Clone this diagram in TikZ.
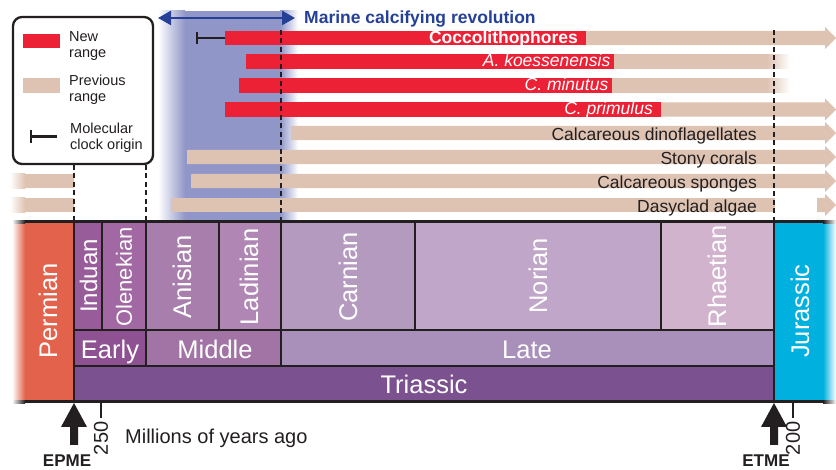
\documentclass[tikz,border=0pt]{standalone}
\usepackage{fontspec}
\setmainfont{Liberation Sans}
\usetikzlibrary{arrows.meta}
\definecolor{dk}{RGB}{35,31,32}
\definecolor{perm}{RGB}{227,98,75}
\definecolor{ind}{RGB}{153,92,155}
\definecolor{ole}{RGB}{162,104,163}
\definecolor{ani}{RGB}{168,127,172}
\definecolor{lad}{RGB}{176,135,180}
\definecolor{car}{RGB}{181,154,192}
\definecolor{nor}{RGB}{192,166,200}
\definecolor{rha}{RGB}{210,179,205}
\definecolor{ear}{RGB}{142,82,146}
\definecolor{mid}{RGB}{161,116,165}
\definecolor{lat}{RGB}{169,144,187}
\definecolor{tri}{RGB}{124,81,144}
\definecolor{jur}{RGB}{0,176,223}
\definecolor{redc}{RGB}{236,33,53}
\definecolor{tanc}{RGB}{222,195,178}
\definecolor{bandc}{RGB}{144,150,200}
\definecolor{bluec}{RGB}{38,64,152}
\newcommand\tanarrow[2]{\fill[tanc] (#1,#2-7.2) -- (825,#2-7.2) -- (825,#2-11) -- (836,#2) -- (825,#2+11) -- (825,#2+7.2) -- (#1,#2+7.2) -- cycle;}
\newcommand\redbar[3]{\fill[redc] (#1,#3-7.2) rectangle (#2,#3+7.2);}
\newcommand\tanbar[3]{\fill[tanc] (#1,#3-7.2) rectangle (#2,#3+7.2);}
\begin{document}
\begin{tikzpicture}[x=1pt,y=-1pt,
  cell/.style={draw=dk,line width=2.5pt},
  stlab/.style={text=white,inner sep=0pt,font=\fontsize{25.5}{30}\selectfont},
  barlab/.style={anchor=base east,inner sep=0pt,font=\fontsize{17.5}{20}\selectfont},
  guide/.style={draw=dk,line width=2.7pt,dash pattern=on 5pt off 3.5pt},
  legtxt/.style={anchor=north west,inner sep=0pt,align=left,text=dk,font=\fontsize{14.5}{16}\selectfont},
  ticklab/.style={rotate=90,anchor=east,inner sep=0pt,text=dk,font=\fontsize{20}{24}\selectfont},
  evlab/.style={anchor=base,inner sep=0pt,text=dk,font=\bfseries\fontsize{17}{20}\selectfont},
  clock/.style={draw=dk,line width=2.5pt},
]
\useasboundingbox[fill=white] (0,0) rectangle (836,470);

% blue band
\shade[left color=white,right color=bandc] (158,11) rectangle (185,222);
\fill[bandc] (185,11) rectangle (280,222);
\shade[left color=bandc,right color=white] (280,11) rectangle (298,222);

% marine calcifying revolution
\coordinate (mcrL) at (158,18);
\coordinate (mcrR) at (295,18);
\draw[bluec,line width=2.5pt,{Triangle[length=13pt,width=14pt]}-{Triangle[length=13pt,width=14pt]}] (mcrL) -- (mcrR);
\node[anchor=base west,inner sep=0pt,text=bluec,font=\bfseries\fontsize{17.5}{20}\selectfont] (mcr) at (304,23.5) {Marine calcifying revolution};

% row 1 Coccolithophores
\tanarrow{580}{38}
\redbar{225}{586}{38}
\draw[clock] (197,32) -- (197,44);
\draw[clock] (197,38) -- (225,38);
\node[barlab,text=white,font=\bfseries\fontsize{17.5}{20}\selectfont] (coc) at (578,43.5) {Coccolithophores};
% row 2
\tanbar{610}{767}{61.5}
\shade[left color=tanc,right color=white] (767,54.3) rectangle (790,68.7);
\redbar{246}{614}{61.5}
\node[barlab,text=white,font=\itshape\fontsize{17.5}{20}\selectfont] (ak) at (610.5,67) {A. koessenensis};
% row 3
\tanbar{608}{767}{85.5}
\shade[left color=tanc,right color=white] (767,78.3) rectangle (790,92.7);
\redbar{239}{611.5}{85.5}
\node[barlab,text=white,font=\itshape\fontsize{17.5}{20}\selectfont] (cm) at (608.5,91) {C. minutus};
% row 4
\tanarrow{655}{109.5}
\redbar{225}{661}{109.5}
\node[barlab,text=white,font=\itshape\fontsize{17.5}{20}\selectfont] (cp) at (653,115) {C. primulus};
% row 5
\tanarrow{291}{133}
\node[barlab,text=dk] (cd) at (757,140.5) {Calcareous dinoflagellates};
% row 6
\tanarrow{187}{157}
\node[barlab,text=dk] (sc) at (757,164.5) {Stony corals};
% row 7
\tanarrow{191}{181}
\shade[left color=white,right color=tanc] (10,173.8) rectangle (25,188.2);
\tanbar{25}{74}{181}
\node[barlab,text=dk] (cs) at (757,188.5) {Calcareous sponges};
% row 8
\tanbar{171}{775}{205}
\tanarrow{817}{205}
\shade[left color=white,right color=tanc] (10,197.8) rectangle (25,212.2);
\tanbar{25}{74}{205}
\node[barlab,text=dk] (da) at (757,212.5) {Dasyclad algae};

% legend
\node[draw=dk,line width=2.3pt,rounded corners=9pt,fill=white,minimum width=140pt,minimum height=147pt,inner sep=0pt] (legend) at (83,90.5) {};
\fill[redc] (23,34) rectangle (60,48);
\node[legtxt] (lnew) at (69,31) {New\\range};
\fill[tanc] (23,78) rectangle (60,93);
\node[legtxt] (lprev) at (69,75) {Previous\\range};
\draw[clock] (31,130) -- (31,143);
\draw[clock] (31,136.5) -- (57,136.5);
\node[legtxt] (lmol) at (70,122.7) {Molecular\\clock origin};

% guides
\coordinate (g1a) at (74,165); \coordinate (g1b) at (74,222);
\coordinate (g2a) at (146,165); \coordinate (g2b) at (146,222);
\coordinate (g3a) at (281,30); \coordinate (g3b) at (281,222);
\coordinate (g4a) at (774,30); \coordinate (g4b) at (774,222);
\draw[guide] (g1a) -- (g1b);
\draw[guide] (g2a) -- (g2b);
\draw[guide] (g3a) -- (g3b);
\draw[guide] (g4a) -- (g4b);

% timescale
\fill[perm] (25,222) rectangle (74,402);
\shade[left color=white,right color=perm] (12,222) rectangle (25,402);
\fill[jur] (774,222) rectangle (823,402);
\shade[left color=jur,right color=white] (823,222) rectangle (836,402);
\draw[cell,fill=ind] (74,222) rectangle (102,330);
\draw[cell,fill=ole] (102,222) rectangle (146,330);
\draw[cell,fill=ani] (146,222) rectangle (219,330);
\draw[cell,fill=lad] (219,222) rectangle (281,330);
\draw[cell,fill=car] (281,222) rectangle (415,330);
\draw[cell,fill=nor] (415,222) rectangle (661,330);
\draw[cell,fill=rha] (661,222) rectangle (774,330);
\draw[cell,fill=ear] (74,330) rectangle (146,366);
\draw[cell,fill=mid] (146,330) rectangle (281,366);
\draw[cell,fill=lat] (281,330) rectangle (774,366);
\draw[cell,fill=tri] (74,366) rectangle (774,402);
\draw[dk,line width=3pt] (25,222) -- (823,222);
\draw[dk,line width=3pt] (25,402) -- (823,402);
\shade[left color=white,right color=dk] (12,220.5) rectangle (25,223.5);
\shade[left color=white,right color=dk] (12,400.5) rectangle (25,403.5);
\shade[left color=dk,right color=white] (823,220.5) rectangle (836,223.5);
\shade[left color=dk,right color=white] (823,400.5) rectangle (836,403.5);

\node[stlab,rotate=90] (lperm) at (48,311) {Permian};
\node[stlab,rotate=90] (ljur) at (800,311) {Jurassic};
\node[stlab,rotate=90,font=\fontsize{24}{28}\selectfont] (lind) at (88.5,276) {Induan};
\node[stlab,rotate=90,font=\fontsize{22}{26}\selectfont] (lole) at (124,277) {Olenekian};
\node[stlab,rotate=90] (lani) at (182,277) {Anisian};
\node[stlab,rotate=90] (llad) at (249,277) {Ladinian};
\node[stlab,rotate=90] (lcar) at (348,277) {Carnian};
\node[stlab,rotate=90] (lnor) at (538,276) {Norian};
\node[stlab,rotate=90] (lrha) at (717,276) {Rhaetian};
\node[stlab,anchor=base] (lear) at (110,358.5) {Early};
\node[stlab,anchor=base] (lmid) at (215,358.5) {Middle};
\node[stlab,anchor=base] (llat) at (527,358.5) {Late};
\node[stlab,anchor=base] (ltri) at (424,393.5) {Triassic};

% axis
\draw[dk,line width=2pt] (101,402) -- (101,418);
\node[ticklab] (t250) at (101,421.5) {250};
\draw[dk,line width=2pt] (793,402) -- (793,418);
\node[ticklab] (t200) at (793,421.5) {200};
\node[anchor=base west,inner sep=0pt,text=dk,font=\fontsize{20}{24}\selectfont] (mya) at (125,443) {Millions of years ago};

\fill[dk] (74,403) -- (87,427) -- (78,427) -- (78,445) -- (70,445) -- (70,427) -- (61,427) -- cycle;
\node[evlab] (epme) at (67,467) {EPME};
\fill[dk] (774,403) -- (787,427) -- (778,427) -- (778,445) -- (770,445) -- (770,427) -- (761,427) -- cycle;
\node[evlab] (etme) at (766,467) {ETME};
\end{tikzpicture}
\end{document}
